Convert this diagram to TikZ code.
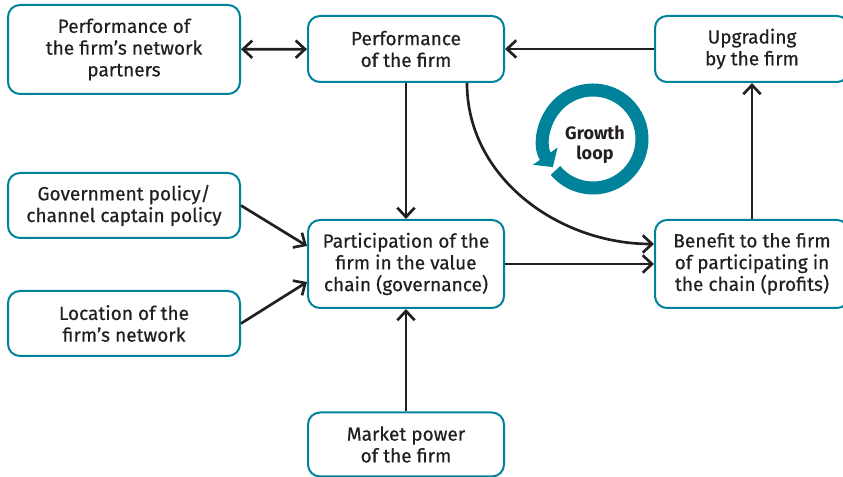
\documentclass[tikz,border=0pt]{standalone}
\usepackage{fontspec}
\setmainfont{Fira Sans}
\newfontfamily\boxfont[FakeBold=0.5]{Fira Sans}
\usetikzlibrary{arrows.meta, calc, positioning}
\definecolor{boxteal}{RGB}{0,130,155}
\definecolor{inkgray}{RGB}{35,31,32}
\newcommand{\drawa}{\draw[line width=2pt, draw=inkgray]}

\begin{document}
\begin{tikzpicture}[x=0.75pt, y=0.75pt,
  factor/.style={draw=boxteal, line width=1.5pt, rounded corners=9pt, align=center,
    text=inkgray, inner sep=0pt, font=\boxfont\fontsize{14.3}{16.3}\selectfont},
  wide/.style={factor, minimum width=174pt},
  mid/.style={factor, minimum width=147pt},
  tip/.style={-{Straight Barb[length=7pt,width=13pt]}},
  looptext/.style={text=inkgray, align=center, font=\bfseries\fontsize{13.5}{15}\selectfont}]
\useasboundingbox (0,0) rectangle (843,477);
% Boxes
\node[wide, minimum height=66.75pt] (partners) at (124,427.5) {Performance of\\the firm’s network\\partners};
\node[mid, minimum height=49.5pt] (perf) at (406,428) {Performance\\of the firm};
\node[factor, minimum width=145.5pt, minimum height=49.5pt] (upgrade) at (752,428) {Upgrading\\by the firm};
\node[wide, minimum height=48.75pt] (govpolicy) at (124,271.5) {Government policy/\\channel captain policy};
\node[wide, minimum height=48.75pt] (location) at (124,153.5) {Location of the\\firm’s network};
\node[mid, minimum height=66pt] (particip) at (406,213) {Participation of the\\firm in the value\\chain (governance)};
\node[factor, minimum width=145.5pt, minimum height=66pt] (benefit) at (752,213) {Benefit to the firm\\of participating in\\the chain (profits)};
\node[mid, minimum height=48pt] (market) at (406,32.5) {Market power\\of the firm};
% Arrows
\drawa[{Straight Barb[length=7pt,width=13pt]}-{Straight Barb[length=7pt,width=13pt]}] (partners) -- (perf);
\drawa[tip] (upgrade) -- (perf);
\drawa[tip] (benefit) -- (upgrade);
\drawa[tip] (perf) -- (particip);
\drawa[tip] (market) -- (particip);
\drawa[tip] (particip) -- (benefit);
\drawa[tip] (govpolicy.east) -- ($(particip.west)+(0,18)$);
\drawa[tip] (location.east) -- ($(particip.west)+(0,-18)$);
\drawa[tip] ($(perf.south)+(61,0)$) .. controls +(0,-95) and +(-95,0) .. ($(benefit.west)+(0,20)$);
% Growth loop
\coordinate (loopc) at (593,338);
\draw[draw=boxteal, line width=9.75pt, -{Triangle[length=10pt,width=22pt]}]
  ($(loopc)+(220:36.75pt)$) arc[start angle=220, end angle=575, radius=36.75pt];
\node[looptext] (loop) at (595,332) {Growth\\loop};
\end{tikzpicture}
\end{document}
